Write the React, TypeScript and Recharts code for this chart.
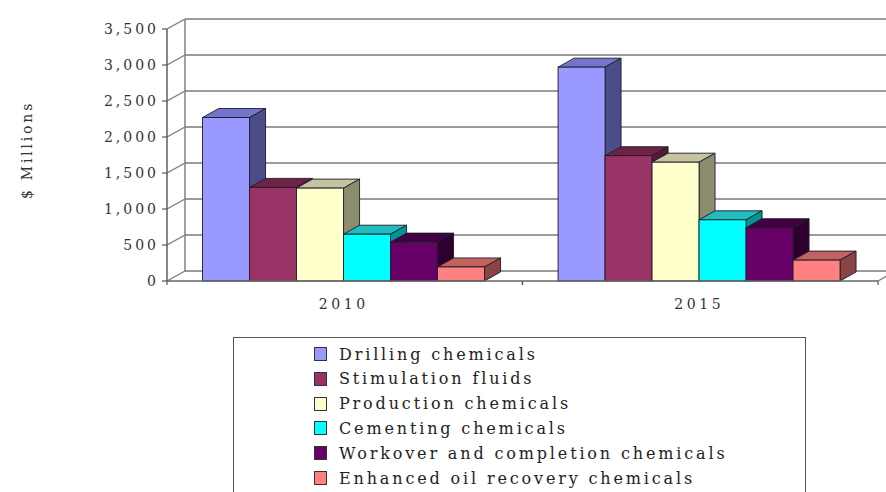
import React from 'react';
import { BarChart, Bar, XAxis, YAxis, CartesianGrid, Legend } from 'recharts';

// Oilfield chemicals market by segment, $ millions
const years = ['2010', '2015'];
const drillingChemicals = [2270, 2970];
const stimulationFluids = [1300, 1740];
const productionChemicals = [1290, 1650];
const cementingChemicals = [650, 850];
const workoverCompletionChemicals = [540, 740];
const enhancedOilRecoveryChemicals = [195, 290];
const yTicks = [0, 500, 1000, 1500, 2000, 2500, 3000, 3500];

const seriesNames = [
  'Drilling chemicals',
  'Stimulation fluids',
  'Production chemicals',
  'Cementing chemicals',
  'Workover and completion chemicals',
  'Enhanced oil recovery chemicals',
];
const seriesKeys = ['drilling', 'stimulation', 'production', 'cementing', 'workover', 'eor'];
const seriesValues = [
  drillingChemicals,
  stimulationFluids,
  productionChemicals,
  cementingChemicals,
  workoverCompletionChemicals,
  enhancedOilRecoveryChemicals,
];

// front / top / side face colours for the extruded columns
const palette = [
  { front: '#9999FF', top: '#7474cc', side: '#4c4c88' },
  { front: '#993366', top: '#6e2246', side: '#561a38' },
  { front: '#FFFFCC', top: '#c4c4a0', side: '#8c8c6e' },
  { front: '#00FFFF', top: '#1fbdbd', side: '#009494' },
  { front: '#660066', top: '#420042', side: '#2e002e' },
  { front: '#FF8080', top: '#c4625f', side: '#8a4444' },
];

const chartData = years.map((year, i) => {
  const row: Record<string, string | number> = { year };
  seriesKeys.forEach((k, s) => {
    row[k] = seriesValues[s][i];
  });
  return row;
});

const FONT = 'DejaVu Serif';
const GRID = '#7a7a7a';
const EDGE = '#1c1c2a';
// depth of the walls and of each column
const WALL_DX = 18;
const WALL_DY = 10;
const BAR_DX = 16;
const BAR_DY = 9;

const makeColumn = (c: { front: string; top: string; side: string }) => (props: any) => {
  const { x, y, width, height } = props;
  if (x == null || y == null || !width) return <g />;
  const h = Math.max(height, 0);
  const top = `${x},${y} ${x + BAR_DX},${y - BAR_DY} ${x + width + BAR_DX},${y - BAR_DY} ${x + width},${y}`;
  const side = `${x + width},${y} ${x + width + BAR_DX},${y - BAR_DY} ${x + width + BAR_DX},${y + h - BAR_DY} ${x + width},${y + h}`;
  return (
    <g>
      <polygon points={top} fill={c.top} stroke={EDGE} strokeWidth={0.9} strokeLinejoin="round" />
      <polygon points={side} fill={c.side} stroke={EDGE} strokeWidth={0.9} strokeLinejoin="round" />
      <rect x={x} y={y} width={width} height={h} fill={c.front} stroke={EDGE} strokeWidth={0.9} />
    </g>
  );
};

// side wall, back wall and floor drawn along each horizontal grid line
const WallLine = (props: any) => {
  const { x1, y1, x2, index, horizontalPoints } = props;
  const pts: number[] = Array.isArray(horizontalPoints) ? horizontalPoints : [y1];
  const top = Math.min(...pts);
  const bottom = Math.max(...pts);
  return (
    <g>
      <line x1={x1} y1={y1} x2={x1 + WALL_DX} y2={y1 - WALL_DY} stroke={GRID} strokeWidth={1.4} />
      <line x1={x1 + WALL_DX} y1={y1 - WALL_DY} x2={x2 + WALL_DX} y2={y1 - WALL_DY} stroke={GRID} strokeWidth={1.6} />
      {index === 0 && (
        <g>
          <line x1={x1 + WALL_DX} y1={top - WALL_DY} x2={x1 + WALL_DX} y2={bottom - WALL_DY} stroke={GRID} strokeWidth={1.4} />
          <line x1={x2} y1={bottom} x2={x2 + WALL_DX} y2={bottom - WALL_DY} stroke={GRID} strokeWidth={1.4} />
        </g>
      )}
    </g>
  );
};

const YearTick = (props: any) => {
  const { x, y, payload } = props;
  const half = payload && typeof payload.offset === 'number' ? payload.offset : 0;
  return (
    <g>
      <line x1={x - half} y1={y} x2={x - half} y2={y + 4} stroke="#555" strokeWidth={1.2} />
      <line x1={x + half} y1={y} x2={x + half} y2={y + 4} stroke="#555" strokeWidth={1.2} />
      <text
        x={x - 1}
        y={y + 28}
        textAnchor="middle"
        fontFamily={FONT}
        fontSize={14}
        letterSpacing={3.6}
        fill="#333"
      >
        {payload.value}
      </text>
    </g>
  );
};

const YTitle = (props: any) => {
  const vb = props.viewBox || { x: 107, y: 29, height: 252 };
  const cx = vb.x - 80;
  const cy = vb.y + vb.height / 2 - 5;
  return (
    <text
      x={cx}
      y={cy}
      transform={`rotate(-90 ${cx} ${cy})`}
      textAnchor="middle"
      dominantBaseline="central"
      fontFamily={FONT}
      fontSize={14}
      letterSpacing={2.8}
      fill="#333"
    >
      $ Millions
    </text>
  );
};

const LegendBox = () => (
  <div
    style={{
      position: 'relative',
      width: '100%',
      height: '100%',
      boxSizing: 'border-box',
      border: '1.5px solid #555',
      background: '#fff',
      fontFamily: FONT,
    }}
  >
    {seriesNames.map((name, i) => (
      <div
        key={name}
        style={{
          position: 'absolute',
          left: 80,
          top: 6 + i * 24.8,
          height: 20,
          display: 'flex',
          alignItems: 'center',
          whiteSpace: 'nowrap',
        }}
      >
        <span
          style={{
            display: 'inline-block',
            width: 11,
            height: 12,
            background: palette[i].front,
            border: '1px solid #333',
            marginRight: 12,
          }}
        />
        <span style={{ fontSize: 16, letterSpacing: 2.85, color: '#222' }}>{name}</span>
      </div>
    ))}
  </div>
);

export default function App() {
  return (
    <div style={{ position: 'absolute', left: 0, top: 0, width: 886, height: 492, overflow: 'hidden', background: '#fff' }}>
      <BarChart
        width={886}
        height={492}
        data={chartData}
        margin={{ top: 29, right: 8, left: 107, bottom: 181 }}
        barCategoryGap="10%"
        barGap={0}
      >
        <CartesianGrid horizontal={WallLine} vertical={false} stroke={GRID} />
        <XAxis
          dataKey="year"
          height={30}
          axisLine={{ stroke: '#666', strokeWidth: 1.4 }}
          tickLine={false}
          tickSize={0}
          tickMargin={0}
          tick={YearTick}
          interval={0}
        />
        <YAxis
          width={60}
          domain={[0, 3500]}
          ticks={yTicks}
          interval={0}
          tickSize={5}
          tickMargin={3}
          axisLine={{ stroke: '#555', strokeWidth: 1.4 }}
          tickLine={{ stroke: '#555', strokeWidth: 1.2 }}
          tick={{ fontFamily: FONT, fontSize: 14, letterSpacing: 3, fill: '#333' }}
          tickFormatter={(v: number) => v.toLocaleString('en-US')}
          label={<YTitle />}
        />
        <Legend
          layout="vertical"
          align="center"
          verticalAlign="middle"
          content={<LegendBox />}
          wrapperStyle={{ position: 'absolute', left: 233, top: 337, width: 573, height: 170 }}
        />
        {seriesKeys.map((k, i) => (
          <Bar
            key={k}
            dataKey={k}
            name={seriesNames[i]}
            fill={palette[i].front}
            shape={makeColumn(palette[i])}
            isAnimationActive={false}
          />
        ))}
      </BarChart>
    </div>
  );
}
